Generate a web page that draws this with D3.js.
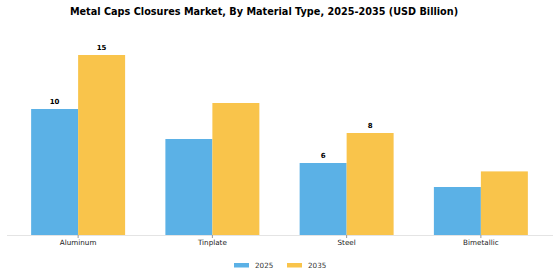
<!DOCTYPE html>
<html>
<head>
<meta charset="utf-8">
<script src="https://cdn.jsdelivr.net/npm/d3@7"></script>
<style>
  body { margin: 0; background: #fff; }
  text { font-family: "DejaVu Sans", sans-serif; }
</style>
</head>
<body>
<svg id="chart" width="560" height="280"></svg>
<script>
// data
const categories = ["Aluminum", "Tinplate", "Steel", "Bimetallic"];
const years = ["2025", "2035"];
const values2025 = [10.5, 8.0, 6.0, 4.0];
const values2035 = [15.0, 11.0, 8.5, 5.3];
const labelShown2025 = [true, false, true, false];
const labelShown2035 = [true, false, true, false];
const colors = ["#5BB1E6", "#F9C44B"];

const svg = d3.select("#chart");
const baseY = 235;

const x = d3.scaleBand().domain(categories).range([11, 548]).padding(0);
const y = d3.scaleLinear().domain([0, 15]).range([baseY, 55]);
const sub = d3.scaleBand().domain(years).range([0.15 * x.bandwidth(), 0.85 * x.bandwidth()]);

svg.append("text")
    .attr("x", 264)
    .attr("y", 15)
    .attr("text-anchor", "middle")
    .style("font-size", "9.7px")
    .style("font-weight", "bold")
    .text("Metal Caps Closures Market, By Material Type, 2025-2035 (USD Billion)");

const rows = categories.map((c, i) => [
    { cat: c, year: "2025", v: values2025[i], show: labelShown2025[i], col: colors[0] },
    { cat: c, year: "2035", v: values2035[i], show: labelShown2035[i], col: colors[1] }
]).flat();

svg.selectAll(".bar")
    .data(rows)
    .enter()
    .append("rect")
    .attr("class", "bar")
    .attr("x", (d) => x(d.cat) + sub(d.year))
    .attr("width", sub.bandwidth())
    .attr("y", (d) => y(d.v))
    .attr("height", (d) => baseY - y(d.v))
    .style("fill", (d) => d.col);

svg.selectAll(".val")
    .data(rows.filter((d) => d.show))
    .enter()
    .append("text")
    .attr("class", "val")
    .attr("x", (d) => x(d.cat) + sub(d.year) + sub.bandwidth() / 2)
    .attr("y", (d) => y(d.v) - 5)
    .attr("text-anchor", "middle")
    .style("font-size", "7px")
    .style("font-weight", "bold")
    .text((d) => Math.floor(d.v));

// baseline + category axis
svg.append("line")
    .attr("x1", 7).attr("x2", 553)
    .attr("y1", baseY + 0.5).attr("y2", baseY + 0.5)
    .style("stroke", "#e4e4e4");

const axis = svg.append("g")
    .attr("transform", `translate(0,${baseY})`)
    .call(d3.axisBottom(x).tickSize(3).tickPadding(2));
axis.select(".domain").remove();
axis.selectAll(".tick line").style("stroke", "#999");
axis.selectAll(".tick text")
    .style("font-family", "DejaVu Sans, sans-serif")
    .style("font-size", "7.2px")
    .style("fill", "#222");

// legend
const legend = svg.append("g").attr("transform", "translate(234,263)");
years.forEach((yr, i) => {
    const g = legend.append("g").attr("transform", `translate(${i * 53},0)`);
    g.append("rect").attr("width", 15).attr("height", 4.5).style("fill", colors[i]);
    g.append("text")
        .attr("x", 21)
        .attr("y", 5.3)
        .style("font-size", "7.2px")
        .style("fill", "#333")
        .text(yr);
});
</script>
</body>
</html>
